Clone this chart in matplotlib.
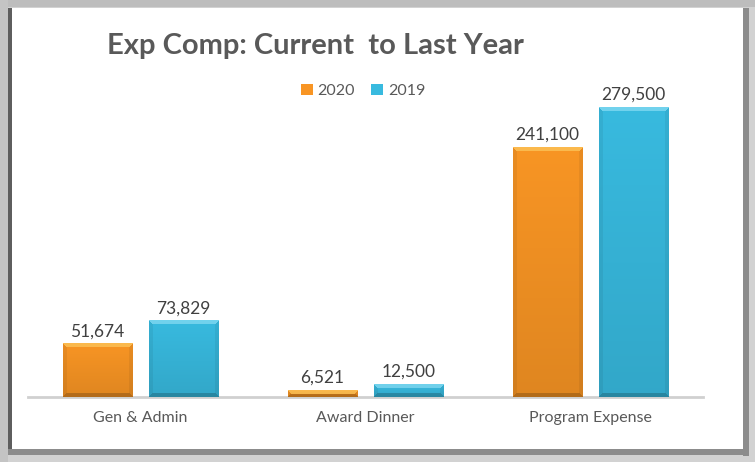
import numpy as np
import matplotlib.pyplot as plt
from matplotlib.patches import Rectangle
from matplotlib.colors import to_rgb

categories = ["Gen & Admin", "Award Dinner", "Program Expense"]
series_names = ["2020", "2019"]
values_2020 = [51674, 6521, 241100]
values_2019 = [73829, 12500, 279500]

colors = ["#F89524", "#38BADF"]
title = "Exp Comp: Current  to Last Year"

W, H = 755, 462
plt.rcParams['font.family'] = ['Lato', 'DejaVu Sans']

fig = plt.figure(figsize=(W / 100, H / 100), dpi=100)
fig.patch.set_facecolor("#D2D2D2")


def px_rect(x, y, w, h, color):
    # rectangle given in pixel coords from the top-left corner
    fig.patches.append(Rectangle((x / W, 1 - (y + h) / H), w / W, h / H,
                                 transform=fig.transFigure, facecolor=color,
                                 edgecolor="none", zorder=-10))


# ── picture frame ──
px_rect(0, 0, W, 7, "#BDBDBD")
px_rect(0, 0, 8, H, "#C4C4C4")
px_rect(8, 8, 4, 446, "#5E5E5E")
px_rect(743, 8, 6, 448, "#8C8C8C")
px_rect(8, 449, 741, 6, "#8C8C8C")
px_rect(12, 8, 731, 441, "white")

ax = fig.add_axes([28 / W, 1 - 397 / H, (703 - 28) / W, (397 - 86) / H])
ax.set_facecolor("none")

x = np.arange(len(categories))
bw = 0.307
off = 0.192
ax.set_xlim(-0.5, len(categories) - 0.5)
ax.set_ylim(0, 300000)

bars_a = ax.bar(x - off, values_2020, bw, color=colors[0], zorder=2)
bars_b = ax.bar(x + off, values_2019, bw, color=colors[1], zorder=2)


def shade(bar, color, hi):
    # fake the Excel bevel: lighter top edge, darker sides and bottom
    x0, y0 = bar.get_x(), bar.get_y()
    x1, y1 = x0 + bar.get_width(), y0 + bar.get_height()
    p0 = ax.transData.transform((x0, y0))
    p1 = ax.transData.transform((x1, y1))
    nx = max(int(round(p1[0] - p0[0])), 2)
    ny = max(int(round(p1[1] - p0[1])), 2)
    yy, xx = np.mgrid[0:ny, 0:nx] + 0.5
    base = np.array(to_rgb(color))
    v = yy / ny
    img = base * (0.9 + 0.1 * v)[..., None]
    b = 4.0
    dl, dr, db, dt = xx, nx - xx, yy, ny - yy
    m = np.minimum(np.minimum(dl, dr), np.minimum(db, dt))
    top = (dt == m) & (dt < b)
    bot = (db == m) & (db < b) & ~top
    side = ((dl == m) | (dr == m)) & (m < b) & ~top & ~bot
    img[top] = img[top] * 0.55 + np.array(to_rgb(hi)) * 0.45
    img[side] = img[side] * 0.94
    img[bot] = img[bot] * 0.8
    ax.imshow(np.clip(img, 0, 1), extent=(x0, x1, y0, y1), origin="lower",
              aspect="auto", interpolation="nearest", zorder=3)


for bars, c, hi in [(bars_a, colors[0], "#FFE680"), (bars_b, colors[1], "#B8F0FF")]:
    for bar in bars:
        shade(bar, c, hi)
        ax.annotate(f"{int(bar.get_height()):,}",
                    (bar.get_x() + bar.get_width() / 2, bar.get_height()),
                    xytext=(0, 3), textcoords="offset points",
                    ha="center", va="bottom", fontsize=12.5, color="#404040")

ax.set_xlim(-0.5, len(categories) - 0.5)
ax.set_ylim(0, 300000)
ax.set_xticks(x)
ax.set_xticklabels(categories, fontsize=11.5, color="#595959")
ax.tick_params(axis="x", length=0, pad=10)
ax.set_yticks([])
for s in ["top", "left", "right"]:
    ax.spines[s].set_visible(False)
ax.spines["bottom"].set_color("#D0D0D0")
ax.spines["bottom"].set_linewidth(2)

fig.text(107 / W, 1 - 46 / H, title, fontsize=21, fontweight="bold",
         color="#595959", ha="left", va="center")

handles = [Rectangle((0, 0), 1, 1, facecolor=c) for c in colors]
fig.legend(handles, series_names, loc="center", bbox_to_anchor=(363 / W, 1 - 91 / H),
           ncol=2, frameon=False, handlelength=0.75, handleheight=0.75,
           handletextpad=0.3, columnspacing=1.0, fontsize=11.5,
           labelcolor="#595959")

fig.savefig("out.png", dpi=100, facecolor=fig.get_facecolor())
